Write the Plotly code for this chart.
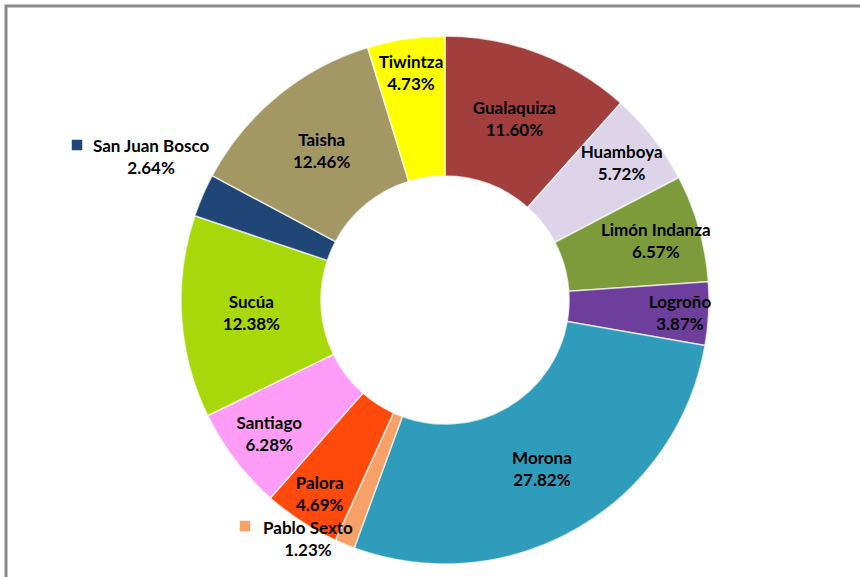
import plotly.graph_objects as go

labels = ["Gualaquiza", "Huamboya", "Limón Indanza", "Logroño", "Morona", "Pablo Sexto",
          "Palora", "Santiago", "Sucúa", "San Juan Bosco", "Taisha", "Tiwintza"]
values = [11.60, 5.72, 6.57, 3.87, 27.82, 1.23, 4.69, 6.28, 12.38, 2.64, 12.46, 4.73]
colors = ["#A23F3D", "#DDD4EA", "#7E9B3B", "#6E3E9C", "#2F9CBB", "#F7A068",
          "#FF4A0C", "#FF9CF8", "#A8D80A", "#1F4676", "#A39763", "#FFFF00"]
outside_labels = ["San Juan Bosco", "Pablo Sexto"]

W, H = 860, 577
cx, cy, R = 445, 300, 264

texts = ["" if l in outside_labels else f"<b>{l}</b><br><b>{v:.2f}%</b>" for l, v in zip(labels, values)]

fig = go.Figure(go.Pie(
    labels=labels, values=values, sort=False, direction="clockwise", rotation=0,
    hole=0.47, marker=dict(colors=colors, line=dict(color="rgba(255,255,255,0.7)", width=1.5)),
    text=texts, texttemplate="%{text}", textposition="inside", insidetextorientation="horizontal",
    textfont=dict(family="Lato", size=17, color="black"),
    domain=dict(x=[(cx - R) / W, (cx + R) / W], y=[1 - (cy + R) / H, 1 - (cy - R) / H]),
    showlegend=False, hoverinfo="label+value",
))

def px(x):
    return x / W

def py(y):
    return 1 - y / H

annos = []
shapes = [dict(type="rect", xref="paper", yref="paper", x0=px(6), x1=px(870), y0=py(6), y1=py(590),
               line=dict(color="#8A8A8A", width=3), fillcolor="rgba(0,0,0,0)", layer="below")]
pos = {"San Juan Bosco": (151, 157, 77, 145), "Pablo Sexto": (308, 538, 245, 526)}
for l, v, c in zip(labels, values, colors):
    if l in pos:
        tx, ty, mx, my = pos[l]
        annos.append(dict(xref="paper", yref="paper", x=px(tx), y=py(ty), showarrow=False,
                          xanchor="center", yanchor="middle",
                          text=f"<b>{l}</b><br><b>{v:.2f}%</b>",
                          font=dict(family="Lato", size=17, color="black"), align="center"))
        shapes.append(dict(type="rect", xref="paper", yref="paper", x0=px(mx - 5), x1=px(mx + 5),
                           y0=py(my + 5), y1=py(my - 5), fillcolor=c, line=dict(color=c, width=0.5)))

fig.update_layout(width=W, height=H, margin=dict(l=0, r=0, t=0, b=0),
                  paper_bgcolor="white", plot_bgcolor="white",
                  uniformtext=dict(minsize=17, mode="show"),
                  annotations=annos, shapes=shapes)
fig.write_html("out.html", config={"displayModeBar": False},
               post_script="document.body.style.margin='0';")
